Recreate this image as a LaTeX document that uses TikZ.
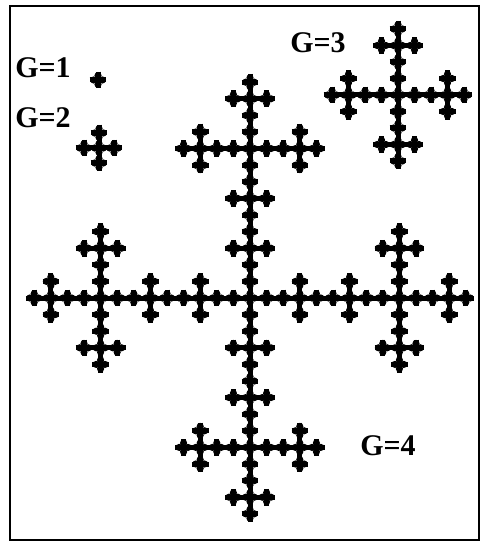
\documentclass[tikz,border=0pt]{standalone}
\usepackage{fontspec}
\setmainfont{Liberation Serif}
\begin{document}
\begin{tikzpicture}[
        x=1pt, y=-1pt,
        frame/.style={draw, line width=2pt},
        glabel/.style={font=\fontsize{30}{30}\selectfont\bfseries, inner sep=0pt},
        cell/.pic={
            \draw[line width=5pt] (-8.3,0) -- (8.3,0) (0,-8.3) -- (0,8.3);
            \foreach \p in {(4.4,0),(-4.4,0),(0,4.4),(0,-4.4)}
                \fill \p circle (3.6);
        }
    ]
        \useasboundingbox (0,0) rectangle (482,545);
        \draw[frame] (10,6) rectangle (479,540);
        % G=1
        \pic at (98,80) {cell};
        % G=2
        \foreach \a/\b in {0/0,1/0,-1/0,0/1,0/-1}
            \pic at ({99+15*\a},{148+15*\b}) {cell};
        % G=3
        \foreach \a/\b in {0/0,1/0,-1/0,0/1,0/-1} {
            \foreach \c/\d in {0/0,1/0,-1/0,0/1,0/-1} {
                \pic at ({398+16.5*(3*\a+\c)},{95+16.5*(3*\b+\d)}) {cell};
            }
        }
        % G=4
        \foreach \a/\b in {0/0,1/0,-1/0,0/1,0/-1} {
            \foreach \c/\d in {0/0,1/0,-1/0,0/1,0/-1} {
                \foreach \e/\f in {0/0,1/0,-1/0,0/1,0/-1} {
                    \pic at ({250+16.6*(9*\a+3*\c+\e)},{298+16.6*(9*\b+3*\d+\f)}) {cell};
                }
            }
        }
        \node[glabel] (g1) at (43,68) {G=1};
        \node[glabel] (g2) at (43,118) {G=2};
        \node[glabel] (g3) at (318,43) {G=3};
        \node[glabel] (g4) at (388,446) {G=4};
\end{tikzpicture}
\end{document}
